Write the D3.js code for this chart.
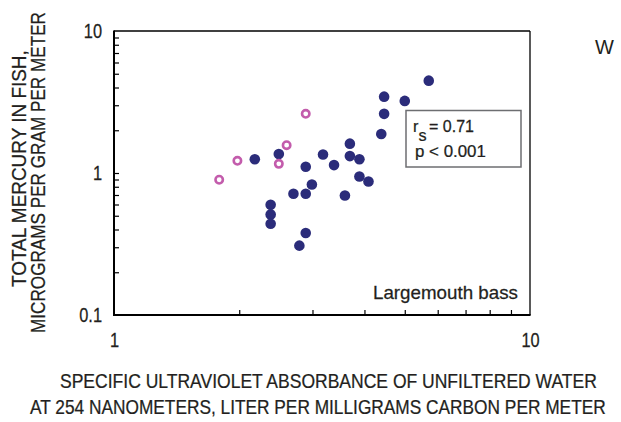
<!DOCTYPE html>
<html>
<head>
<meta charset="utf-8">
<script src="https://cdn.jsdelivr.net/npm/d3@7"></script>
<style>
  html, body { margin: 0; padding: 0; background: #fff; }
  svg { display: block; }
  text { font-family: "Liberation Sans", Arial, sans-serif; fill: #231f20; stroke: #231f20; stroke-width: 0.25px; }
</style>
</head>
<body>
<svg id="chart" width="621" height="422"></svg>
<script>
// ---- data ----
const suvaFilled = [5.71, 4.46, 5.00, 4.46, 4.39, 3.69, 3.69, 3.89, 3.18, 3.38, 2.49, 2.18,
                    2.89, 3.89, 4.09, 2.99, 2.70, 2.89, 3.59, 2.38, 2.38, 2.38, 2.89, 2.79];
const hgFilled   = [4.47, 3.45, 3.22, 2.61, 1.88, 1.61, 1.315, 1.25, 1.35, 1.137, 1.36, 1.25,
                    1.106, 0.945, 0.871, 0.830, 0.714, 0.714, 0.695, 0.598, 0.511, 0.439, 0.378, 0.308];
const suvaOpen = [1.79, 1.98, 2.49, 2.60, 2.89];
const hgOpen   = [0.896, 1.218, 1.16, 1.57, 2.61];
const xTickLabels = ["1", "10"];
const yTickLabels = ["0.1", "1", "10"];
const xMinorTicks = [2, 3, 4, 5, 6, 7, 8, 9];
const yMinorTicks = [0.2, 0.3, 0.4, 0.5, 0.6, 0.7, 0.8, 0.9, 1, 2, 3, 4, 5, 6, 7, 8, 9];
const xTitle = ["SPECIFIC ULTRAVIOLET ABSORBANCE OF UNFILTERED WATER",
                "AT 254 NANOMETERS, LITER PER MILLIGRAMS CARBON PER METER"];
const yTitle = ["TOTAL MERCURY IN FISH,", "MICROGRAMS PER GRAM PER METER"];
const species = "Largemouth bass";
const stats = { rs: "0.71", p: "p < 0.001" };

const navy = "#2b2c7a", magenta = "#c35cac";

const svg = d3.select("#chart");
const L = 114, R = 530, T = 31, B = 315;
const x = d3.scaleLog().domain([1, 10]).range([L, R]);
const y = d3.scaleLog().domain([0.1, 10]).range([B, T]);

// place a text and squeeze it horizontally (condensed look) to a target width
function fitText(str, X, Y, width, size, rotate) {
  const t = svg.append("text").attr("x", 0).attr("y", 0).style("font-size", size + "px").text(str);
  const w = t.node().getComputedTextLength();
  const sx = width / w;
  t.attr("transform", `translate(${X},${Y})${rotate ? " rotate(-90)" : ""} scale(${sx},1)`);
  return t;
}

// minor ticks (inward)
svg.append("g").attr("transform", `translate(0,${B})`)
  .call(d3.axisBottom(x).tickValues(xMinorTicks).tickSize(-5).tickFormat(""))
  .call(g => g.select(".domain").remove())
  .call(g => g.selectAll("line").attr("stroke", "#000").attr("stroke-width", 1.2));
svg.append("g").attr("transform", `translate(${L},0)`)
  .call(d3.axisLeft(y).tickValues(yMinorTicks).tickSize(-5).tickFormat(""))
  .call(g => g.select(".domain").remove())
  .call(g => g.selectAll("line").attr("stroke", "#000").attr("stroke-width", 1.2));

// tick labels (condensed by a horizontal scale)
const cond = 0.82;
svg.append("g").attr("transform", `translate(0,${B})`)
  .call(d3.axisBottom(x).tickValues(xTickLabels.map(Number)).tickSize(0).tickFormat((d, i) => xTickLabels[i]))
  .call(g => g.select(".domain").remove())
  .call(g => g.selectAll("text").attr("y", 0).attr("dy", 0)
    .attr("transform", `translate(0,32) scale(${cond},1)`)
    .style("font-size", "20px").style("font-family", '"Liberation Sans", Arial, sans-serif')
    .attr("fill", "#231f20").attr("stroke", "#231f20").attr("stroke-width", 0.25));
svg.append("g").attr("transform", `translate(${L},0)`)
  .call(d3.axisLeft(y).tickValues(yTickLabels.map(Number)).tickSize(0).tickFormat((d, i) => yTickLabels[i]))
  .call(g => g.select(".domain").remove())
  .call(g => g.selectAll("text").attr("x", 0).attr("dy", "0.34em")
    .attr("transform", `translate(-12,0) scale(${cond},1)`)
    .style("font-size", "20px").style("font-family", '"Liberation Sans", Arial, sans-serif')
    .attr("fill", "#231f20").attr("stroke", "#231f20").attr("stroke-width", 0.25));

// frame
svg.append("line").attr("x1", L).attr("x2", R).attr("y1", T).attr("y2", T).attr("stroke", "#000").attr("stroke-width", 1.3);
svg.append("line").attr("x1", R).attr("x2", R).attr("y1", T).attr("y2", B).attr("stroke", "#000").attr("stroke-width", 1.3);
svg.append("line").attr("x1", L).attr("x2", L).attr("y1", T - 0.6).attr("y2", B + 1).attr("stroke", "#000").attr("stroke-width", 2);
svg.append("line").attr("x1", L - 1).attr("x2", R + 0.6).attr("y1", B).attr("y2", B).attr("stroke", "#000").attr("stroke-width", 2);

// points
svg.append("g").selectAll("circle").data(suvaFilled.map((v, i) => [v, hgFilled[i]])).join("circle")
  .attr("cx", d => x(d[0])).attr("cy", d => y(d[1])).attr("r", 5.3).attr("fill", navy);
svg.append("g").selectAll("circle").data(suvaOpen.map((v, i) => [v, hgOpen[i]])).join("circle")
  .attr("cx", d => x(d[0])).attr("cy", d => y(d[1])).attr("r", 3.7)
  .attr("fill", "#fff").attr("stroke", magenta).attr("stroke-width", 2.6);

// stats box
svg.append("rect").attr("x", 406).attr("y", 110.5).attr("width", 115).attr("height", 56.5)
  .attr("fill", "#fff").attr("stroke", "#6d6e71").attr("stroke-width", 1.5);
{
  const t = svg.append("text").attr("x", 0).attr("y", 0).style("font-size", "16.5px");
  t.append("tspan").text("r");
  t.append("tspan").attr("dy", 9).text("s");
  const w = t.node().getComputedTextLength();
  t.attr("transform", `translate(413,131.5) scale(${13.5 / w},1)`);
}
fitText("= " + stats.rs, 429, 131.5, 45, 16.5);
fitText(stats.p, 415, 156.5, 71, 16.5);

// species label
fitText(species, 373, 298.5, 145, 18.5);

// axis titles
fitText(xTitle[0], 60, 387.5, 537, 20);
fitText(xTitle[1], 30, 414, 576, 20);
fitText(yTitle[0], 25.5, 287, 237, 20, true);
fitText(yTitle[1], 44.5, 333, 321, 20, true);

// panel letter
svg.append("text").attr("x", 595).attr("y", 53.5).style("font-size", "20px").style("stroke-width", 0).text("W");
</script>
</body>
</html>
